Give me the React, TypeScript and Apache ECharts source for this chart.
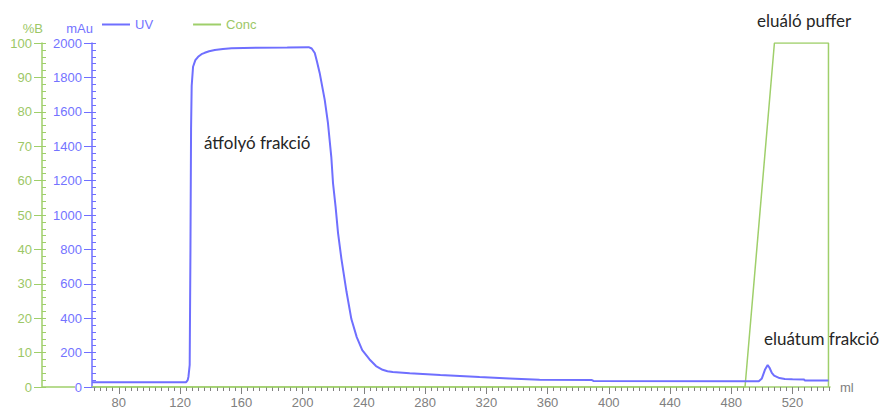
import React, { useEffect, useRef } from "react";
import * as echarts from "echarts";

// UV absorbance trace (ml, mAu)
const uvVolume = [
  62.5, 124, 125, 125.5, 126.3, 126.8, 127.2, 127.6, 128.5, 130, 131.8, 134, 136.1, 139, 142.7, 148, 153.6,
  170, 190, 204, 206, 208, 209.5, 211.2, 214.5, 216.6, 218.8, 219.9, 221.6, 223.2, 225.4, 228.7, 231.9,
  235.4, 239, 243.8, 248, 252.3, 255.5, 258.9, 270, 290, 315.6, 335, 354.8, 389, 390, 498, 500, 502,
  503.8, 505, 506.5, 508, 511.5, 515, 520, 527.5, 528, 543.5,
];
const uvAbsorbance = [
  28, 28, 40, 60, 128, 800, 1500, 1750, 1862, 1900, 1920, 1935, 1943, 1952, 1959, 1965, 1969,
  1972, 1974, 1976, 1968, 1942, 1890, 1826, 1669, 1535, 1337, 1186, 1047, 895, 745, 555, 395,
  290, 215, 160, 122, 100, 92, 87, 80, 70, 58, 50, 42, 40, 35, 34, 50, 100,
  128, 112, 82, 66, 52, 47, 45, 44, 38, 38,
];

// Buffer B concentration (ml, %B)
const concVolume = [62.5, 489, 508.2, 543.5, 543.5];
const concPercent = [0, 0, 100, 100, 0];

// Axis ticks
const volumeLabels = [80, 120, 160, 200, 240, 280, 320, 360, 400, 440, 480, 520];
const volumeMinorTicks: number[] = [];
for (let v = 64; v <= 544; v += 4) volumeMinorTicks.push(v);

const UV_COLOR = "#6f6fff";
const CONC_COLOR = "#9fcf6a";
const UV_TEXT = "#7373ff";
const CONC_TEXT = "#9cc766";
const GRAY = "#808080";

export default function App() {
  const ref = useRef<HTMLDivElement>(null);

  useEffect(() => {
    if (!ref.current) return;
    const chart = echarts.init(ref.current, null, { renderer: "svg" });
    const labelFont = { fontFamily: "Arial, 'Liberation Sans', sans-serif", fontSize: 13 };
    const noteFont = "17px Lato, 'Open Sans', sans-serif";
    const plain = (v: number) => String(v);

    chart.setOption({
      animation: false,
      backgroundColor: "#ffffff",
      grid: { left: 92, right: 51, top: 43, bottom: 24, containLabel: false },
      legend: {
        left: 97,
        top: 13,
        icon: "rect",
        itemWidth: 28,
        itemHeight: 2,
        itemGap: 40,
        data: [
          { name: "UV", textStyle: { color: UV_TEXT } },
          { name: "Conc", textStyle: { color: CONC_TEXT } },
        ],
        textStyle: { ...labelFont },
      },
      xAxis: [
        {
          type: "value",
          min: 62.5,
          max: 544.5,
          position: "bottom",
          name: "ml",
          nameLocation: "end",
          nameGap: 10,
          nameTextStyle: { ...labelFont, color: GRAY, verticalAlign: "middle", align: "left" },
          axisLine: { show: true, lineStyle: { color: CONC_COLOR, width: 1.5 } },
          axisTick: { show: true, length: 7, lineStyle: { color: GRAY }, customValues: volumeLabels },
          axisLabel: { ...labelFont, color: GRAY, margin: 9, customValues: volumeLabels, formatter: plain },
          splitLine: { show: false },
        },
        {
          type: "value",
          min: 62.5,
          max: 544.5,
          position: "bottom",
          axisLine: { show: false },
          axisTick: { show: true, length: 4, lineStyle: { color: GRAY }, customValues: volumeMinorTicks },
          axisLabel: { show: false },
          splitLine: { show: false },
        },
      ],
      yAxis: [
        {
          type: "value",
          min: 0,
          max: 2000,
          interval: 200,
          position: "left",
          offset: 0,
          name: "mAu",
          nameLocation: "end",
          nameGap: 8,
          nameTextStyle: { ...labelFont, color: UV_TEXT, align: "right", verticalAlign: "bottom", padding: [0, -1, 0, 0] },
          axisLine: { show: true, lineStyle: { color: UV_COLOR, width: 1.5 } },
          axisTick: { show: true, length: 8, lineStyle: { color: UV_COLOR } },
          axisLabel: { ...labelFont, color: UV_TEXT, margin: 10, formatter: plain },
          splitLine: { show: false },
        },
        {
          type: "value",
          min: 0,
          max: 2000,
          interval: 40,
          position: "left",
          offset: 0,
          axisLine: { show: false },
          axisTick: { show: true, inside: true, length: 4, lineStyle: { color: UV_COLOR } },
          axisLabel: { show: false },
          splitLine: { show: false },
        },
        {
          type: "value",
          min: 0,
          max: 100,
          interval: 10,
          position: "left",
          offset: 50,
          name: "%B",
          nameLocation: "end",
          nameGap: 8,
          nameTextStyle: { ...labelFont, color: CONC_TEXT, align: "right", verticalAlign: "bottom", padding: [0, -1, 0, 0] },
          axisLine: { show: true, lineStyle: { color: CONC_COLOR, width: 1.5 } },
          axisTick: { show: true, length: 8, lineStyle: { color: CONC_COLOR } },
          axisLabel: { ...labelFont, color: CONC_TEXT, margin: 10, formatter: plain },
          splitLine: { show: false },
        },
        {
          type: "value",
          min: 0,
          max: 100,
          interval: 2,
          position: "left",
          offset: 50,
          axisLine: { show: false },
          axisTick: { show: true, inside: true, length: 4, lineStyle: { color: CONC_COLOR } },
          axisLabel: { show: false },
          splitLine: { show: false },
        },
      ],
      graphic: [
        {
          type: "line",
          shape: { x1: 42, y1: 387, x2: 75, y2: 387 },
          style: { stroke: CONC_COLOR, lineWidth: 1.5 },
        },
        {
          type: "text",
          left: 204,
          top: 134,
          style: { text: "átfolyó frakció", font: noteFont, fill: "#262626" },
        },
        {
          type: "text",
          left: 757,
          top: 12,
          style: { text: "eluáló puffer", font: noteFont, fill: "#262626" },
        },
        {
          type: "text",
          left: 764,
          top: 330,
          style: { text: "eluátum frakció", font: noteFont, fill: "#262626" },
        },
      ],
      series: [
        {
          name: "UV",
          type: "line",
          xAxisIndex: 0,
          yAxisIndex: 0,
          showSymbol: false,
          symbol: "none",
          lineStyle: { color: UV_COLOR, width: 2 },
          itemStyle: { color: UV_COLOR },
          data: uvVolume.map((v, i) => [v, uvAbsorbance[i]]),
          z: 3,
        },
        {
          name: "Conc",
          type: "line",
          xAxisIndex: 0,
          yAxisIndex: 2,
          showSymbol: false,
          symbol: "none",
          lineStyle: { color: CONC_COLOR, width: 1.5 },
          itemStyle: { color: CONC_COLOR },
          data: concVolume.map((v, i) => [v, concPercent[i]]),
          z: 2,
        },
      ],
    });

    return () => chart.dispose();
  }, []);

  return (
    <div
      ref={ref}
      style={{ position: "fixed", left: 0, top: 0, width: 881, height: 411, background: "#fff" }}
    />
  );
}
